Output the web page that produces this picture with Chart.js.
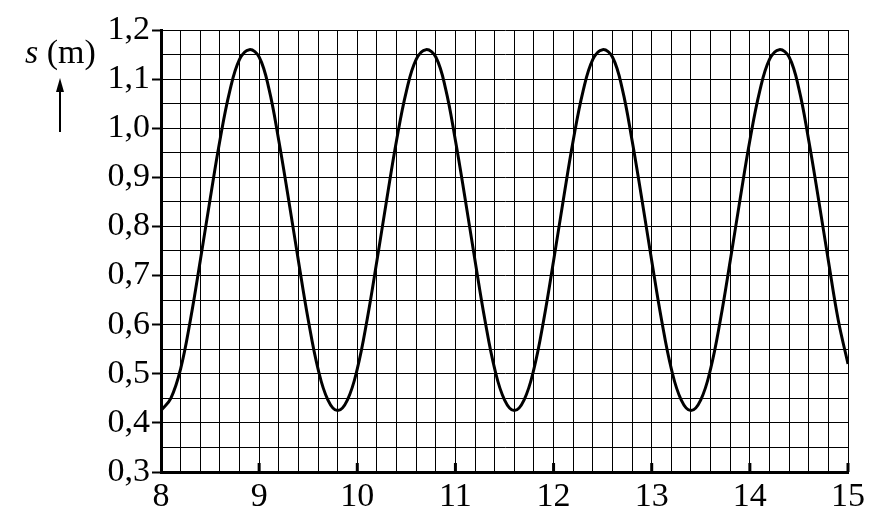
<!DOCTYPE html>
<html>
<head>
<meta charset="utf-8">
<script src="https://cdn.jsdelivr.net/npm/chart.js@4/dist/chart.umd.min.js"></script>
<style>
    body { margin: 0; background: #fff; }
</style>
</head>
<body>
<canvas id="sChart" width="889" height="524"></canvas>
<script>
const tValues = [
    8.0, 8.1, 8.2, 8.3, 8.4, 8.5, 8.6, 8.7, 8.8, 8.9,
    9.0, 9.1, 9.2, 9.3, 9.4, 9.5, 9.6, 9.7, 9.8, 9.9,
    10.0, 10.1, 10.2, 10.3, 10.4, 10.5, 10.6, 10.7, 10.8, 10.9,
    11.0, 11.1, 11.2, 11.3, 11.4, 11.5, 11.6, 11.7, 11.8, 11.9,
    12.0, 12.1, 12.2, 12.3, 12.4, 12.5, 12.6, 12.7, 12.8, 12.9,
    13.0, 13.1, 13.2, 13.3, 13.4, 13.5, 13.6, 13.7, 13.8, 13.9,
    14.0, 14.1, 14.2, 14.3, 14.4, 14.5, 14.6, 14.7, 14.8, 14.9,
    15.0
];
// position s (m)
const sValues = [
    0.425, 0.45, 0.51, 0.61, 0.73, 0.855, 0.975, 1.075, 1.14, 1.16,
    1.145, 1.08, 0.975, 0.855, 0.73, 0.61, 0.51, 0.447, 0.425, 0.447,
    0.51, 0.61, 0.73, 0.855, 0.975, 1.075, 1.14, 1.16, 1.145, 1.08,
    0.975, 0.855, 0.73, 0.61, 0.51, 0.447, 0.425, 0.447, 0.51, 0.61,
    0.73, 0.855, 0.975, 1.075, 1.14, 1.16, 1.145, 1.08, 0.975, 0.855,
    0.73, 0.61, 0.51, 0.447, 0.425, 0.447, 0.51, 0.61, 0.73, 0.855,
    0.975, 1.075, 1.14, 1.16, 1.145, 1.08, 0.975, 0.855, 0.73, 0.61,
    0.52
];
const xMin = 8, xMax = 15, xStep = 0.2;
const yMin = 0.3, yMax = 1.2, yStep = 0.05;
const yTitle = ['s', ' (m)'];

const FONT = "'Liberation Serif', 'Times New Roman', serif";

function isWhole(v, unit) {
    const r = v / unit;
    return Math.abs(r - Math.round(r)) < 1e-6;
}

// major ticks on the time axis point up into the grid
const innerTicks = {
    id: 'innerTicks',
    afterDraw(chart) {
        const ctx = chart.ctx;
        const x = chart.scales.x;
        const bottom = chart.chartArea.bottom;
        ctx.save();
        ctx.strokeStyle = '#000';
        ctx.lineWidth = 3;
        x.ticks.forEach(t => {
            if (!isWhole(t.value, 1) || t.value === xMin) return;
            const px = x.getPixelForValue(t.value);
            ctx.beginPath();
            ctx.moveTo(px, bottom);
            ctx.lineTo(px, bottom - 9);
            ctx.stroke();
        });
        ctx.restore();
    }
};

// "s (m)" with the upward arrow, left of the value labels
const axisTitle = {
    id: 'axisTitle',
    afterDraw(chart) {
        const ctx = chart.ctx;
        ctx.save();
        ctx.fillStyle = '#000';
        ctx.textBaseline = 'alphabetic';
        ctx.font = 'italic 34px ' + FONT;
        ctx.fillText(yTitle[0], 25, 63);
        const w = ctx.measureText(yTitle[0]).width;
        ctx.font = '34px ' + FONT;
        ctx.fillText(yTitle[1], 25 + w, 63);
        ctx.strokeStyle = '#000';
        ctx.lineWidth = 2;
        ctx.beginPath();
        ctx.moveTo(60, 132);
        ctx.lineTo(60, 86);
        ctx.stroke();
        ctx.beginPath();
        ctx.moveTo(60, 78);
        ctx.lineTo(56, 92);
        ctx.lineTo(64, 92);
        ctx.closePath();
        ctx.fill();
        ctx.restore();
    }
};

const chart = new Chart(document.getElementById('sChart').getContext('2d'), {
    type: 'line',
    data: {
        datasets: [{
            label: 's',
            data: tValues.map((t, i) => ({ x: t, y: sValues[i] })),
            borderColor: '#000',
            borderWidth: 3,
            pointRadius: 0,
            tension: 0.4,
            fill: false
        }]
    },
    options: {
        responsive: false,
        devicePixelRatio: 1,
        animation: false,
        layout: {
            padding: { top: 30, right: 41, left: 0, bottom: 0 }
        },
        plugins: {
            legend: { display: false },
            tooltip: { enabled: false }
        },
        scales: {
            x: {
                type: 'linear',
                min: xMin,
                max: xMax,
                afterFit: s => { s.height = 52; },
                border: { display: true, color: '#000', width: 3 },
                grid: {
                    color: '#000',
                    lineWidth: 1,
                    drawTicks: false
                },
                ticks: {
                    stepSize: xStep,
                    autoSkip: false,
                    maxRotation: 0,
                    padding: 5,
                    color: '#000',
                    font: { family: FONT, size: 34 },
                    callback: v => isWhole(v, 1) ? String(Math.round(v)) : ''
                }
            },
            y: {
                type: 'linear',
                min: yMin,
                max: yMax,
                afterFit: s => { s.width = 161; },
                border: { display: true, color: '#000', width: 3 },
                grid: {
                    color: '#000',
                    lineWidth: 1,
                    tickLength: 9,
                    tickColor: c => (c.tick && isWhole(c.tick.value, 0.1)) ? '#000' : 'rgba(0,0,0,0)',
                    tickWidth: 2
                },
                ticks: {
                    stepSize: yStep,
                    autoSkip: false,
                    padding: 2,
                    color: '#000',
                    font: { family: FONT, size: 34 },
                    callback: v => isWhole(v, 0.1) ? (Math.round(v * 10) / 10).toFixed(1).replace('.', ',') : ''
                }
            }
        }
    },
    plugins: [innerTicks, axisTitle]
});
</script>
</body>
</html>
